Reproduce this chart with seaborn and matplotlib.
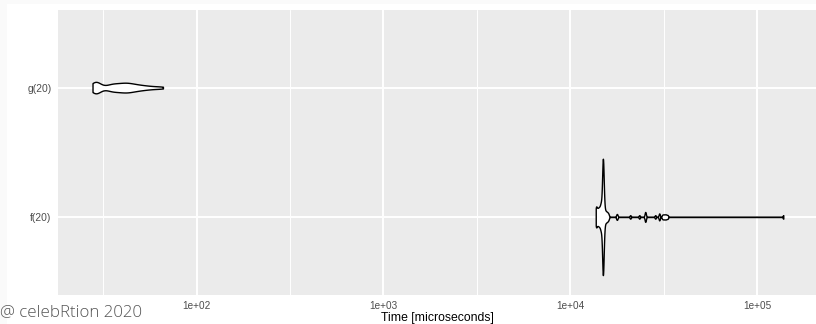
import numpy as np
import pandas as pd
import matplotlib
matplotlib.use("Agg")
import matplotlib.pyplot as plt
import seaborn as sns
from matplotlib.patches import Rectangle
from matplotlib.ticker import FixedLocator, NullFormatter

# benchmark expressions, top to bottom
EXPRESSIONS = ["g(20)", "f(20)"]

# timings in microseconds (100 evaluations each)
G_TIMES = [
    27.7, 27.9, 28.0, 28.1, 28.2, 28.3, 28.4, 28.5, 28.5, 28.6,
    28.6, 28.7, 28.8, 28.8, 28.9, 28.9, 29.0, 29.1, 29.2, 29.3,
    29.4, 29.5, 29.6, 29.8, 30.0,
    30.9, 31.6, 32.3, 33.0,
    33.6, 33.9, 34.1, 34.4, 34.6, 34.9, 35.1, 35.4, 35.6, 35.9,
    36.2, 36.4, 36.7, 37.0, 37.3, 37.5, 37.8, 38.1, 38.4, 38.6,
    38.9, 39.2, 39.5, 39.8, 40.0, 40.1, 40.4, 40.7, 41.0, 41.3,
    41.6, 41.9, 42.0, 42.2, 42.4, 42.7, 43.0, 43.3, 43.6, 43.9,
    44.2, 44.5, 44.8, 45.1, 45.4,
    45.8, 46.2, 46.6, 47.0, 47.4, 47.9, 48.3, 48.8, 49.3, 49.8,
    50.4, 51.0, 51.6, 52.3, 53.0, 53.8, 54.6, 55.5, 56.5, 57.6,
    58.8,
    60.2, 61.8, 63.4, 65.0, 66.0,
]
F_TIMES = [
    # main body, mostly just below the mode
    13700, 13710, 13730, 13760, 13800, 13850, 13900, 13950, 14000, 14050,
    14100, 14150, 14200, 14240, 14290, 14330, 14380, 14420, 14460, 14500,
    14540, 14570, 14600, 14630,
    # the sharp mode
    14626, 14691, 14727, 14753, 14775, 14794, 14810, 14824, 14837, 14850,
    14862, 14874, 14884, 14894, 14904, 14913, 14921, 14929, 14936, 14943,
    14949, 14954, 14958, 14961, 14963, 14965, 14967, 14969, 14972, 14976,
    14981, 14987, 14994, 15001, 15009, 15017, 15026, 15036, 15046, 15056,
    15068, 15080, 15093, 15106, 15120, 15136, 15155, 15177, 15203, 15239,
    15304,
    # right shoulder
    15380, 15450, 15530, 15620, 15710, 15810, 15920, 16050,
    # slow runs
    17700, 17850, 20960, 23430, 25150, 25220, 25300, 28530, 29950, 30000,
    31100, 31500, 31900, 32300, 32700, 33200, 138300,
]

X_TICKS = [1e2, 1e3, 1e4, 1e5]
X_TICK_LABELS = ["1e+02", "1e+03", "1e+04", "1e+05"]
X_MINOR = [31.62, 316.2, 3162.3, 31623.0]
X_LIMITS = (18.1, 207000)


def bw_nrd0(kde):
    # R's default bandwidth (bw.nrd0), as a factor of the sample sd
    x = kde.dataset[0]
    sd = np.std(x, ddof=1)
    q75, q25 = np.percentile(x, [75, 25])
    lo = min(sd, (q75 - q25) / 1.34)
    if lo == 0:
        lo = sd
    return 0.9 * lo * x.size ** -0.2 / sd


df = pd.DataFrame({
    "expr": [EXPRESSIONS[0]] * len(G_TIMES) + [EXPRESSIONS[1]] * len(F_TIMES),
    "time": G_TIMES + F_TIMES,
})

sns.set_style("darkgrid", {"axes.facecolor": "#EBEBEB", "grid.color": "white"})
plt.rcParams["font.family"] = ["Liberation Sans", "DejaVu Sans"]

W, H = 816, 324
fig = plt.figure(figsize=(W / 100, H / 100), dpi=100, facecolor="#FAFAFA")
fig.add_artist(Rectangle((7 / W, 0), 1, 1 - 4 / H, transform=fig.transFigure,
                         facecolor="white", edgecolor="none", zorder=-1))
ax = fig.add_axes([58 / W, 1 - 294.5 / H, 1 - 58 / W, (294.5 - 10) / H])

sns.violinplot(data=df, x="time", y="expr", order=EXPRESSIONS, ax=ax,
               log_scale=True, cut=0, width=0.9, density_norm="area",
               inner=None, bw_method=bw_nrd0, bw_adjust=0.63, gridsize=1024,
               color="white", linecolor="black", linewidth=1.0, saturation=1)

ax.set_xlim(X_LIMITS)
ax.set_ylim(1.6, -0.6)
ax.set_xticks(X_TICKS, X_TICK_LABELS)
ax.xaxis.set_minor_locator(FixedLocator(X_MINOR))
ax.xaxis.set_minor_formatter(NullFormatter())
ax.grid(which="major", axis="both", color="white", linewidth=1.42)
ax.grid(which="minor", axis="x", color="white", linewidth=0.71)
ax.set_axisbelow(True)
for s in ax.spines.values():
    s.set_visible(False)

ax.tick_params(which="major", length=2.75, width=0.7, color="#333333",
               labelcolor="#4D4D4D", labelsize=7.4, pad=1.8)
ax.tick_params(which="minor", length=0)
ax.tick_params(axis="x", labelsize=7.2)
ax.set_ylabel("")
ax.set_xlabel("Time [microseconds]", fontsize=8.8, color="black", labelpad=1)

fig.text(0.0, 1 - 316 / H, "@ celebRtion 2020", fontsize=12.2, color="#555555",
         family=["Open Sans", "DejaVu Sans"], weight="light", va="baseline", ha="left")

fig.savefig("out.png", dpi=100, facecolor=fig.get_facecolor())
